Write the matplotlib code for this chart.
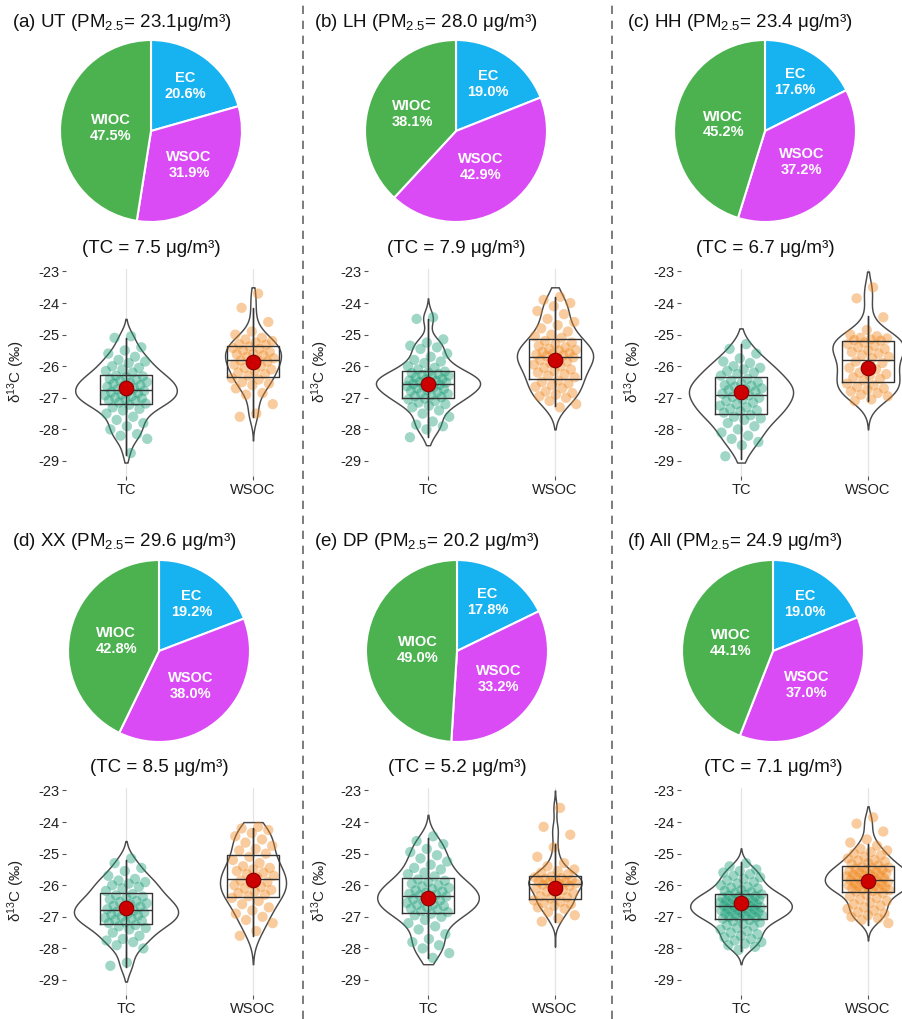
import numpy as np
import matplotlib
matplotlib.use("Agg")
import matplotlib.pyplot as plt
from matplotlib.lines import Line2D

plt.rcParams['font.family'] = ['Liberation Sans', 'DejaVu Sans']
plt.rcParams['mathtext.fontset'] = 'custom'
plt.rcParams['mathtext.rm'] = 'Liberation Sans'
plt.rcParams['mathtext.it'] = 'Liberation Sans:italic'
plt.rcParams['mathtext.bf'] = 'Liberation Sans:bold'

# ---------------- data ----------------
titles = [r"(a) UT (PM$_{2.5}$= 23.1μg/m³)",
          r"(b) LH (PM$_{2.5}$= 28.0 μg/m³)",
          r"(c) HH (PM$_{2.5}$= 23.4 μg/m³)",
          r"(d) XX (PM$_{2.5}$= 29.6 μg/m³)",
          r"(e) DP (PM$_{2.5}$= 20.2 μg/m³)",
          r"(f) All (PM$_{2.5}$= 24.9 μg/m³)"]
tc_conc = [7.5, 7.9, 6.7, 8.5, 5.2, 7.1]
pie_labels = ['EC', 'WSOC', 'WIOC']
ec_pct = [20.6, 19.0, 17.6, 19.2, 17.8, 19.0]
wsoc_pct = [31.9, 42.9, 37.2, 38.0, 33.2, 37.0]
wioc_pct = [47.5, 38.1, 45.2, 42.8, 49.0, 44.1]
groups = ['TC', 'WSOC']

# box statistics (per panel)
tc_q1 = [-27.20, -27.00, -27.50, -27.23, -26.87, -27.07]
tc_med = [-26.75, -26.55, -26.90, -26.78, -26.34, -26.67]
tc_q3 = [-26.27, -26.15, -26.35, -26.23, -25.78, -26.27]
tc_wlo = [-28.80, -28.25, -28.95, -28.60, -28.30, -28.07]
tc_whi = [-25.10, -24.50, -25.30, -25.20, -24.50, -25.25]
tc_mean = [-26.70, -26.55, -26.80, -26.73, -26.40, -26.56]
wsoc_q1 = [-26.35, -26.40, -26.50, -26.37, -26.44, -26.22]
wsoc_med = [-25.80, -25.70, -25.80, -25.80, -25.96, -25.82]
wsoc_q3 = [-25.35, -25.15, -25.20, -25.04, -25.70, -25.40]
wsoc_wlo = [-27.60, -27.25, -27.10, -27.60, -27.15, -27.25]
wsoc_whi = [-24.15, -23.80, -24.40, -24.20, -24.70, -24.70]
wsoc_mean = [-25.85, -25.80, -26.05, -25.83, -26.10, -25.87]

# violin extents
tc_vlo = [-29.05, -28.50, -29.05, -29.05, -28.50, -28.50]
tc_vhi = [-24.50, -23.85, -24.80, -24.60, -23.77, -24.83]
wsoc_vlo = [-28.35, -28.00, -28.00, -28.50, -27.95, -27.75]
wsoc_vhi = [-23.50, -23.50, -23.00, -24.00, -23.00, -23.50]

# individual samples (delta13C, permil)
tc_UT = [-25.05, -25.1, -25.4, -25.5, -25.6, -25.7, -25.8, -25.85, -25.9, -26.0, -26.05, -26.1, -26.15, -26.2,
         -26.3, -26.32, -26.35, -26.4, -26.42, -26.45, -26.5, -26.52, -26.55, -26.6, -26.62, -26.65, -26.7, -26.73,
         -26.78, -26.8, -26.82, -26.85, -26.9, -26.92, -26.95, -27.0, -27.02, -27.05, -27.08, -27.1, -27.15, -27.18,
         -27.22, -27.3, -27.35, -27.4, -27.5, -27.6, -27.7, -27.8, -27.9, -28.0, -28.15, -28.2, -28.3, -28.75]
wsoc_UT = [-23.7, -24.15, -24.6, -24.9, -25.0, -25.1, -25.15, -25.2, -25.25, -25.3, -25.32,
           -25.38, -25.42, -25.45, -25.5, -25.55, -25.6, -25.62, -25.65, -25.7, -25.75, -25.78,
           -25.82, -25.85, -25.9, -25.95, -26.0, -26.05, -26.1, -26.15, -26.2, -26.25, -26.3,
           -26.38, -26.42, -26.5, -26.55, -26.6, -26.7, -26.85, -26.9, -27.2, -27.5, -27.6]
tc_LH = [-24.45, -24.5, -25.15, -25.25, -25.35, -25.4, -25.45, -25.6, -25.7, -25.8, -25.85, -25.9, -26.0, -26.05, -26.1,
         -26.17, -26.2, -26.22, -26.25, -26.28, -26.3, -26.33, -26.36, -26.4, -26.42, -26.45, -26.47, -26.5, -26.52, -26.54,
         -26.56, -26.58, -26.6, -26.63, -26.66, -26.7, -26.72, -26.75, -26.78, -26.82, -26.85, -26.88, -26.92, -26.95, -26.98,
         -27.02, -27.05, -27.1, -27.15, -27.2, -27.25, -27.3, -27.4, -27.5, -27.6, -27.75, -27.85, -27.9, -28.0, -28.25]
wsoc_LH = [-23.8, -23.9, -24.0, -24.1, -24.25, -24.35, -24.5, -24.6, -24.7, -24.8, -24.9, -25.0, -25.05, -25.1,
           -25.2, -25.25, -25.3, -25.35, -25.4, -25.45, -25.48, -25.5, -25.55, -25.58, -25.6, -25.63, -25.66, -25.68,
           -25.72, -25.76, -25.8, -25.85, -25.9, -25.95, -26.0, -26.05, -26.1, -26.15, -26.2, -26.25, -26.3, -26.35,
           -26.45, -26.5, -26.55, -26.6, -26.65, -26.7, -26.8, -26.85, -26.9, -26.95, -27.0, -27.1, -27.2, -27.3]
tc_HH = [-25.3, -25.45, -25.6, -25.75, -25.85, -25.9, -26.0, -26.05, -26.1, -26.15, -26.2, -26.25, -26.3,
         -26.4, -26.45, -26.5, -26.55, -26.6, -26.62, -26.65, -26.7, -26.72, -26.75, -26.8, -26.83, -26.87,
         -26.92, -26.97, -27.0, -27.05, -27.1, -27.15, -27.2, -27.25, -27.3, -27.35, -27.4, -27.43, -27.47,
         -27.55, -27.6, -27.65, -27.7, -27.8, -27.9, -28.0, -28.1, -28.2, -28.3, -28.4, -28.5, -28.85]
wsoc_HH = [-23.5, -23.85, -24.45, -24.85, -25.0, -25.05, -25.1, -25.12, -25.15, -25.17, -25.19,
           -25.25, -25.3, -25.35, -25.4, -25.45, -25.5, -25.55, -25.6, -25.65, -25.7, -25.75,
           -25.85, -25.9, -26.0, -26.05, -26.1, -26.2, -26.25, -26.3, -26.35, -26.4, -26.45,
           -26.55, -26.6, -26.65, -26.7, -26.75, -26.8, -26.85, -26.9, -26.95, -27.05, -27.1]
tc_XX = [-25.15, -25.3, -25.45, -25.55, -25.7, -25.8, -25.85, -25.9, -25.95, -26.0, -26.05, -26.1, -26.18,
         -26.28, -26.32, -26.36, -26.4, -26.45, -26.5, -26.53, -26.57, -26.6, -26.65, -26.68, -26.72, -26.76,
         -26.8, -26.83, -26.86, -26.9, -26.93, -26.96, -27.0, -27.03, -27.06, -27.1, -27.13, -27.17, -27.2,
         -27.26, -27.3, -27.35, -27.4, -27.5, -27.6, -27.7, -27.75, -27.8, -27.9, -28.0, -28.45, -28.55]
wsoc_XX = [-24.15, -24.2, -24.25, -24.35, -24.45, -24.55, -24.65, -24.75, -24.85, -24.9, -25.0,
           -25.1, -25.2, -25.3, -25.4, -25.45, -25.5, -25.55, -25.6, -25.65, -25.7, -25.75,
           -25.85, -25.9, -25.95, -26.0, -26.05, -26.1, -26.15, -26.2, -26.25, -26.3, -26.35,
           -26.4, -26.5, -26.6, -26.7, -26.8, -26.9, -27.0, -27.1, -27.2, -27.45, -27.6]
tc_DP = [-24.45, -24.6, -24.7, -24.85, -24.95, -25.05, -25.15, -25.25, -25.35, -25.45, -25.5, -25.6, -25.65, -25.72,
         -25.82, -25.86, -25.9, -25.95, -26.0, -26.04, -26.08, -26.12, -26.16, -26.2, -26.24, -26.27, -26.3, -26.32,
         -26.36, -26.4, -26.44, -26.48, -26.52, -26.56, -26.6, -26.63, -26.66, -26.7, -26.74, -26.78, -26.82, -26.85,
         -26.9, -26.95, -27.0, -27.1, -27.2, -27.3, -27.4, -27.55, -27.7, -27.8, -27.9, -28.0, -28.15, -28.3]
wsoc_DP = [-23.55, -24.15, -24.4, -24.8, -25.1, -25.3, -25.4, -25.5, -25.55, -25.6, -25.65,
           -25.72, -25.75, -25.78, -25.8, -25.83, -25.85, -25.88, -25.9, -25.92, -25.94, -25.95,
           -25.98, -26.02, -26.06, -26.1, -26.15, -26.2, -26.25, -26.3, -26.35, -26.38, -26.42,
           -26.48, -26.52, -26.56, -26.6, -26.65, -26.7, -26.75, -26.85, -26.95, -27.05, -27.15]
tc_All = [-25.3, -25.4, -25.5, -25.55, -25.6, -25.65, -25.7, -25.75, -25.8, -25.85, -25.9, -25.95, -26.0, -26.05,
          -26.08, -26.1, -26.15, -26.18, -26.22, -26.25,
          -26.29, -26.31, -26.33, -26.35, -26.37, -26.39, -26.41, -26.43, -26.45, -26.47, -26.49, -26.51, -26.53,
          -26.55, -26.57, -26.59, -26.61, -26.63, -26.65, -26.66,
          -26.68, -26.7, -26.72, -26.74, -26.76, -26.78, -26.8, -26.82, -26.84, -26.86, -26.88, -26.9, -26.92,
          -26.94, -26.96, -26.98, -27.0, -27.02, -27.04, -27.06,
          -27.1, -27.14, -27.18, -27.22, -27.26, -27.3, -27.35, -27.4, -27.45, -27.5, -27.55, -27.6, -27.65,
          -27.7, -27.75, -27.8, -27.85, -27.9, -27.95, -28.05]
wsoc_All = [-23.85, -24.05, -24.3, -24.55, -24.65, -24.75, -24.85, -24.9, -24.95, -25.0, -25.05, -25.1, -25.15,
            -25.2, -25.22, -25.25, -25.3, -25.33, -25.37,
            -25.42, -25.44, -25.46, -25.48, -25.5, -25.53, -25.55, -25.57, -25.6, -25.62, -25.64, -25.66, -25.68,
            -25.7, -25.72, -25.74, -25.76, -25.78, -25.8,
            -25.84, -25.86, -25.88, -25.9, -25.92, -25.94, -25.96, -25.98, -26.0, -26.02, -26.04, -26.06, -26.08,
            -26.1, -26.12, -26.14, -26.16, -26.18, -26.2,
            -26.25, -26.3, -26.35, -26.4, -26.45, -26.5, -26.55, -26.6, -26.65, -26.7, -26.75, -26.8, -26.85,
            -26.9, -26.95, -27.0, -27.05, -27.1, -27.2]
tc_points = [tc_UT, tc_LH, tc_HH, tc_XX, tc_DP, tc_All]
wsoc_points = [wsoc_UT, wsoc_LH, wsoc_HH, wsoc_XX, wsoc_DP, wsoc_All]

yticks = [-23, -24, -25, -26, -27, -28, -29]

# ---------------- style / layout ----------------
W, H = 903, 1019
pie_colors = ['#17b2f0', '#da4bf5', '#4cb250']
pt_colors = ['#1b9e77', '#f0861c']
vio_width_tc = [0.40, 0.41, 0.41, 0.41, 0.40, 0.40]
vio_width_ws = [0.22, 0.30, 0.28, 0.26, 0.21, 0.34]
col_tc_px = [126, 428, 741]
col_pie_px = [[151, 456, 765], [159, 457, 773]]
col_title_px = [12, 314, 627]
col_ylab_px = [16, 320, 633]
row_off = [0, 519]
unit_px = 127.0
px_per_y = 31.58
pie_r = 91

fig = plt.figure(figsize=(W / 100, H / 100), dpi=100)


def add_px_axes(left, top, width, height):
    return fig.add_axes([left / W, 1 - (top + height) / H, width / W, height / H])


def kde_shape(vals, grid):
    v = np.asarray(vals, dtype=float)
    n = len(v)
    sd = v.std(ddof=1)
    iqr = np.subtract(*np.percentile(v, [75, 25]))
    bw = 0.9 * min(sd, iqr / 1.34) * n ** -0.2
    d = np.exp(-0.5 * ((grid[:, None] - v[None, :]) / bw) ** 2).sum(1)
    return d / d.max()


for i in range(6):
    r, c = divmod(i, 3)
    off = row_off[r]

    # title
    fig.text(col_title_px[c] / W, 1 - (27 + off) / H, titles[i], fontsize=13.5,
             ha='left', va='baseline', color='#111111')

    # pie
    cx, cy = col_pie_px[r][c], 131 + off + (1 if r == 1 else 0)
    axp = add_px_axes(cx - pie_r, cy - pie_r, 2 * pie_r, 2 * pie_r)
    vals = [ec_pct[i], wsoc_pct[i], wioc_pct[i]]
    wedges, _ = axp.pie(vals, colors=pie_colors, startangle=90, counterclock=False, radius=1.0,
                        wedgeprops=dict(edgecolor='white', linewidth=1.5))
    for w, lab, v in zip(wedges, pie_labels, vals):
        th = np.deg2rad(w.theta2 - w.theta1)
        mid = np.deg2rad((w.theta1 + w.theta2) / 2)
        dist = 4 * np.sin(th / 2) / (3 * th)
        axp.text(dist * np.cos(mid), dist * np.sin(mid), f"{lab}\n{v:.1f}%", ha='center', va='center',
                 color='white', fontsize=10.5, fontweight='bold', linespacing=1.15)
    axp.set_xlim(-1, 1)
    axp.set_ylim(-1, 1)
    axp.set_aspect('equal')
    axp.axis('off')

    # TC text
    fig.text(cx / W, 1 - (253 + off) / H, f"(TC = {tc_conc[i]:.1f} μg/m³)", fontsize=13.5,
             ha='center', va='baseline', color='#111111')

    # violin axes
    tcx = col_tc_px[c]
    xl, xr = 0.53, 2.40
    yb, yt = -29.47, -22.93
    top_px = 271.5 + off - (yt + 23) * px_per_y
    axv = add_px_axes(tcx - (1 - xl) * unit_px, top_px, (xr - xl) * unit_px, (yt - yb) * px_per_y)
    axv.set_xlim(xl, xr)
    axv.set_ylim(yb, yt)
    for s in axv.spines.values():
        s.set_visible(False)
    axv.set_xticks([1, 2])
    axv.set_xticklabels(groups)
    axv.set_yticks(yticks)
    axv.set_yticklabels([str(t) for t in yticks])
    axv.tick_params(axis='both', length=3, width=0.8, color='#555555', labelsize=10.5,
                    labelcolor='#222222', pad=2)
    axv.grid(axis='x', color='#e4e4e4', lw=0.9)
    axv.set_axisbelow(True)

    stats = [
        (tc_points[i], tc_q1[i], tc_med[i], tc_q3[i], tc_wlo[i], tc_whi[i], tc_mean[i],
         tc_vlo[i], tc_vhi[i], vio_width_tc[i], pt_colors[0]),
        (wsoc_points[i], wsoc_q1[i], wsoc_med[i], wsoc_q3[i], wsoc_wlo[i], wsoc_whi[i], wsoc_mean[i],
         wsoc_vlo[i], wsoc_vhi[i], vio_width_ws[i], pt_colors[1]),
    ]
    for k, (pts, q1, med, q3, wlo, whi, mean, vlo, vhi, vw, col) in enumerate(stats):
        x = k + 1
        grid = np.linspace(vlo, vhi, 300)
        half = kde_shape(pts, grid) * vw
        axv.fill_betweenx(grid, x - half, x + half, facecolor='white', edgecolor='#4a4a4a', lw=1.05, zorder=2)
        n = len(pts)
        jit = (((np.arange(n) + 1) * 0.6180339887) % 1 - 0.5) * 2 * 0.17
        axv.scatter(x + jit, pts, s=55, color=col, alpha=0.42, edgecolors='none', zorder=3)
        axv.vlines(x, wlo, whi, color='#333333', lw=1.0, zorder=4)
        axv.bxp([dict(med=med, q1=q1, q3=q3, whislo=wlo, whishi=whi, fliers=[])], positions=[x],
                widths=0.41, showcaps=False, showfliers=False, manage_ticks=False,
                boxprops=dict(color='#333333', lw=1.0), medianprops=dict(color='#333333', lw=1.0),
                whiskerprops=dict(color='#333333', lw=1.0), zorder=4)
        axv.plot([x], [mean], 'o', ms=10.5, mfc='#cc0000', mec='#8a0000', mew=0.8, zorder=5)

    fig.text(col_ylab_px[c] / W, 1 - (372 + off) / H, "δ$^{13}$C (‰)", rotation=90, fontsize=11,
             ha='center', va='center', color='#222222')

# dashed separators
for xs in (303, 612):
    fig.add_artist(Line2D([xs / W, xs / W], [0, 1], transform=fig.transFigure, color='#666666',
                          lw=1.2, linestyle=(0, (5, 4))))

fig.savefig('out.png', dpi=100)
